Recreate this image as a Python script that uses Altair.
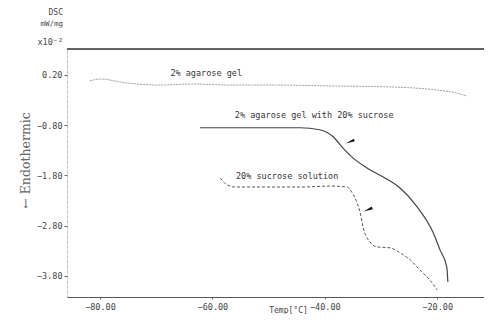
import altair as alt
import pandas as pd

# ---- data ----
gel_t = [-81.8, -80.0, -75.2, -69.3, -63.5, -56.9, -49.8, -37.8, -27.9, -20.0, -16.5, -14.7]
gel_v = [0.08, 0.12, 0.04, 0.00, 0.02, 0.00, 0.00, -0.02, -0.04, -0.10, -0.16, -0.22]

gs_t = [-62.2, -53.3, -44.4, -40.9, -38.5, -36.8, -35.0, -32.5, -29.6, -26.6, -23.6, -20.7, -19.5, -18.3, -18.1]
gs_v = [-0.85, -0.85, -0.85, -0.89, -1.03, -1.25, -1.45, -1.65, -1.83, -2.05, -2.42, -2.94, -3.28, -3.62, -3.92]

suc_t = [-58.6, -57.6, -56.0, -44.4, -39.1, -36.0, -35.2, -34.3, -33.7, -33.2, -32.0, -30.7, -28.4, -26.6, -24.8, -23.1, -21.3, -20.0]
suc_v = [-1.85, -1.97, -2.03, -2.03, -2.01, -2.03, -2.13, -2.33, -2.54, -2.82, -3.12, -3.22, -3.24, -3.34, -3.48, -3.68, -3.88, -4.08]

label_text = ["2% agarose gel", "2% agarose gel with 20% sucrose", "20% sucrose solution"]
label_t = [-61.1, -56.0, -55.8]
label_v = [0.24, -0.60, -1.81]
label_align = ["center", "left", "left"]

arrow_t = [-35.5, -32.3]
arrow_v = [-1.13, -2.48]

x_ticks = [-80, -60, -40, -20]
y_ticks = [0.2, -0.8, -1.8, -2.8, -3.8]

x_domain = [-85.87, -11.67]
y_domain = [-4.218, 0.717]

mono = "DejaVu Sans Mono"

gel = pd.DataFrame({"t": gel_t, "v": gel_v, "o": range(len(gel_t))})
gs = pd.DataFrame({"t": gs_t, "v": gs_v, "o": range(len(gs_t))})
suc = pd.DataFrame({"t": suc_t, "v": suc_v, "o": range(len(suc_t))})
labels = pd.DataFrame({"t": label_t, "v": label_v, "txt": label_text, "al": label_align})
arrows = pd.DataFrame({"t": arrow_t, "v": arrow_v})

xs = alt.Scale(domain=x_domain, nice=False, zero=False)
ys = alt.Scale(domain=y_domain, nice=False, zero=False)

x_axis = alt.Axis(values=x_ticks, format=".2f", grid=False, labelFont=mono, labelFontSize=8.5,
                  labelColor="#444", domainColor="#555", domainWidth=1, tickColor="#777",
                  tickSize=2, labelPadding=3, title="Temp[°C]", titleFont=mono,
                  titleFontSize=8, titleFontWeight="normal", titleColor="#444",
                  titleX=221, titleY=13, titleAlign="center", titleBaseline="middle")
y_axis = alt.Axis(values=y_ticks, format=".2f", grid=False, labelFont=mono, labelFontSize=8.5,
                  labelColor="#444", domainColor="#999", domainDash=[1, 4], tickColor="#666",
                  tickSize=3, labelPadding=2, title="← Endothermic", titleFont="DejaVu Serif",
                  titleFontSize=12.5, titleFontWeight="normal", titleColor="#666",
                  titleX=-42, titleY=111, titleAngle=270, titleAlign="center",
                  titleBaseline="middle")

base_x = alt.X("t:Q", scale=xs, axis=x_axis)
base_y = alt.Y("v:Q", scale=ys, axis=y_axis)

gel_line = alt.Chart(gel).mark_line(color="#a09090", strokeWidth=0.9, strokeDash=[2, 1],
                                    interpolate="monotone").encode(x=base_x, y=base_y, order="o:Q")
gs_line = alt.Chart(gs).mark_line(color="#444", strokeWidth=1.2,
                                  interpolate="monotone").encode(x="t:Q", y="v:Q", order="o:Q")
suc_line = alt.Chart(suc).mark_line(color="#555", strokeWidth=1, strokeDash=[3, 2],
                                    interpolate="monotone").encode(x="t:Q", y="v:Q", order="o:Q")

txt_center = alt.Chart(labels[labels.al == "center"]).mark_text(
    font=mono, fontSize=8.5, color="#333", align="center", baseline="middle").encode(
    x="t:Q", y="v:Q", text="txt:N")
txt_left = alt.Chart(labels[labels.al == "left"]).mark_text(
    font=mono, fontSize=8.5, color="#333", align="left", baseline="middle").encode(
    x="t:Q", y="v:Q", text="txt:N")

arrow_pts = alt.Chart(arrows).mark_point(
    shape="M0,-1L0.32,1L-0.32,1Z", filled=True, color="#111", opacity=1, size=85,
    angle=247).encode(x="t:Q", y="v:Q")

top_rule = alt.Chart(pd.DataFrame({"a": [0]})).mark_rule(color="#333", strokeWidth=1.5).encode(
    x=alt.value(0), x2=alt.value(420), y=alt.value(0))

dsc = alt.Chart(pd.DataFrame({"s": ["DSC"]})).mark_text(
    font=mono, fontSize=8, color="#444", align="right", baseline="middle").encode(
    x=alt.value(-4), y=alt.value(-36), text="s:N")
unit = alt.Chart(pd.DataFrame({"s": ["mW/mg"]})).mark_text(
    font=mono, fontSize=7.5, color="#444", align="right", baseline="middle").encode(
    x=alt.value(-4), y=alt.value(-25), text="s:N")
scale_t = alt.Chart(pd.DataFrame({"s": ["x10⁻²"]})).mark_text(
    font=mono, fontSize=8.5, color="#444", align="right", baseline="middle").encode(
    x=alt.value(-4), y=alt.value(-7), text="s:N")

chart = alt.layer(gel_line, gs_line, suc_line, txt_center, txt_left, arrow_pts, top_rule,
                  dsc, unit, scale_t).properties(
    width=417, height=248,
    padding={"left": 59, "top": 41, "right": 0, "bottom": 17},
    autosize=alt.AutoSizeParams(type="none"),
).configure_view(stroke=None).configure(background="white")

chart.save("out.html", embed_options={"renderer": "svg", "actions": False})
